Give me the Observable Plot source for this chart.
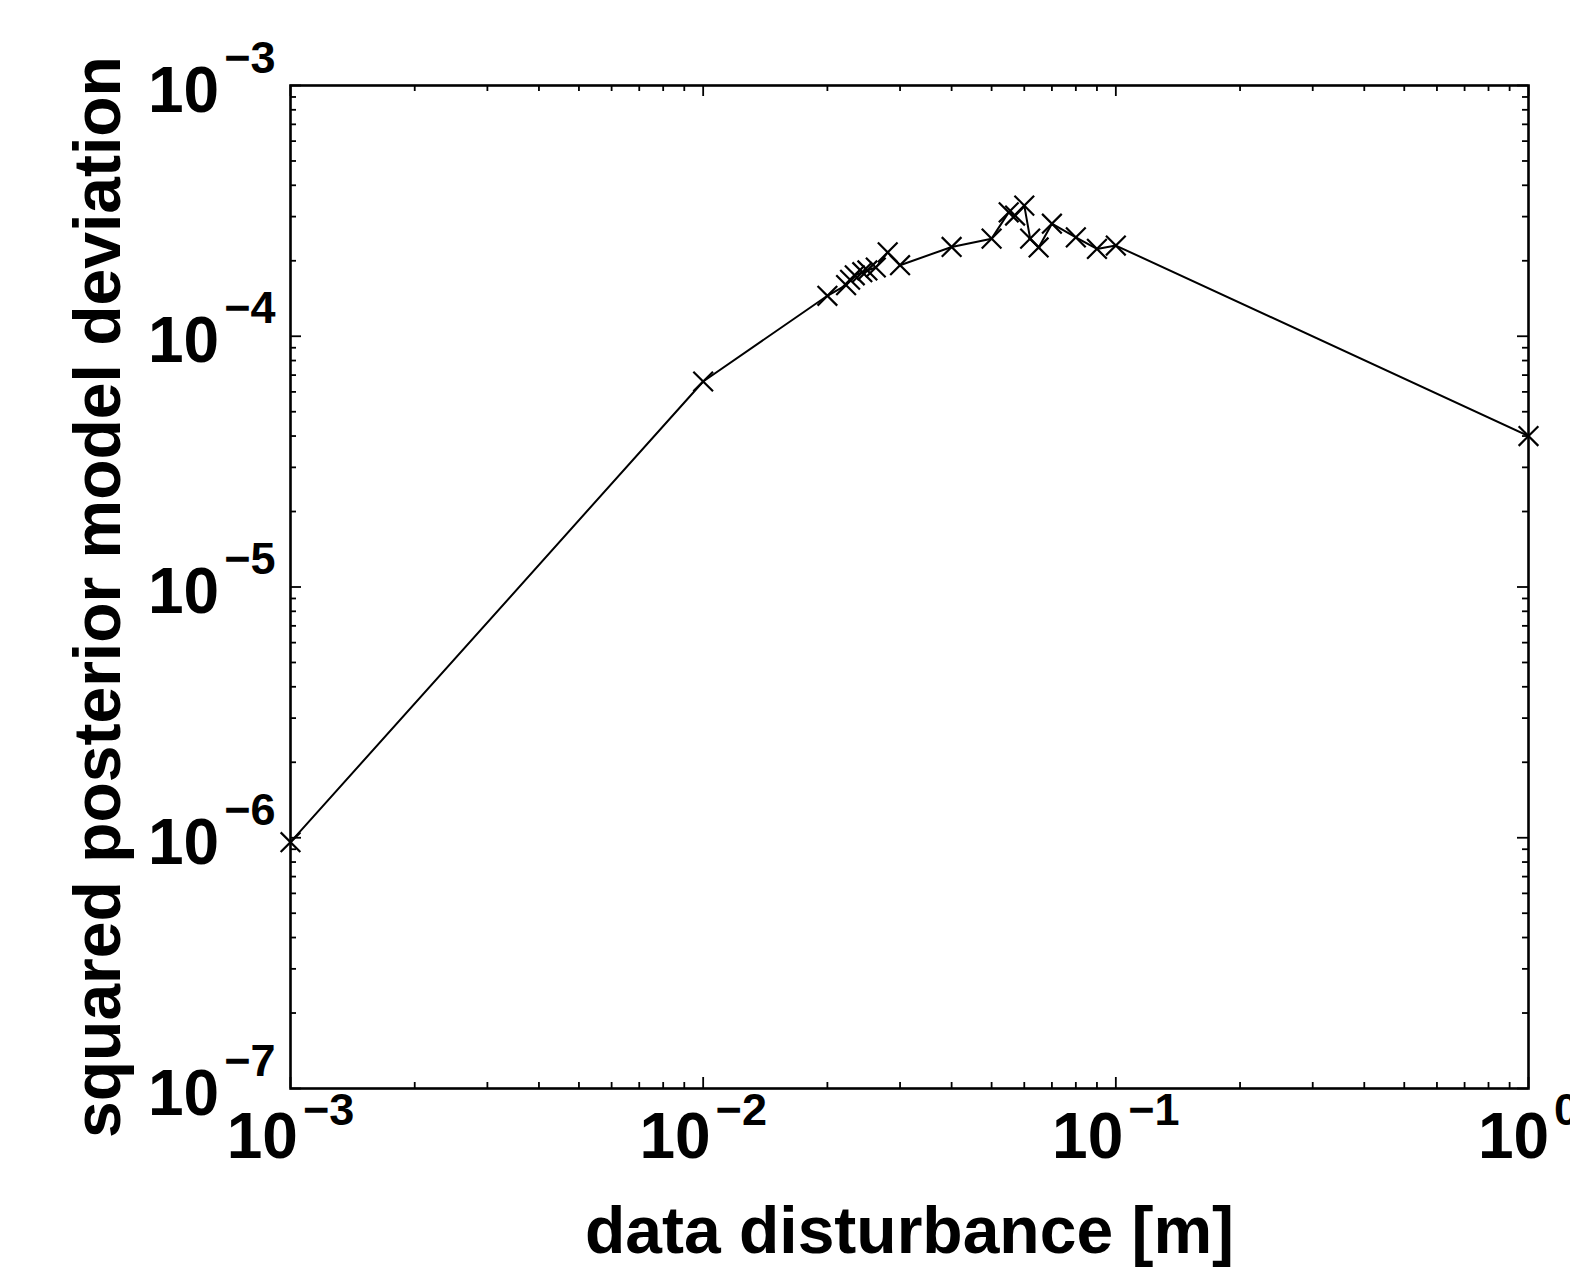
<!DOCTYPE html>
<html>
<head>
<meta charset="utf-8">
<script src="https://cdn.jsdelivr.net/npm/d3@7"></script>
<script src="https://cdn.jsdelivr.net/npm/@observablehq/plot@0.6"></script>
<style>
  html, body { margin: 0; padding: 0; background: #fff; }
  #chart svg { display: block; }
</style>
</head>
<body>
<div id="chart"></div>
<script>
// ---- data ----
const disturbance = [0.001, 0.01, 0.02, 0.0222, 0.0227, 0.0233, 0.0243, 0.025, 0.0262, 0.028, 0.03,
                     0.04, 0.05, 0.055, 0.057, 0.06, 0.062, 0.065, 0.07, 0.08, 0.09, 0.1, 1];
const deviation   = [9.6e-7, 6.6e-5, 1.45e-4, 1.60e-4, 1.68e-4, 1.75e-4, 1.80e-4, 1.83e-4, 1.88e-4, 2.16e-4, 1.92e-4,
                     2.27e-4, 2.45e-4, 3.12e-4, 3.03e-4, 3.32e-4, 2.45e-4, 2.26e-4, 2.81e-4, 2.48e-4, 2.23e-4, 2.30e-4, 4.0e-5];

const xMajorTicks = [1e-3, 1e-2, 1e-1, 1];
const xMajorLabels = ["10^−3", "10^−2", "10^−1", "10^0"];
const yMajorTicks = [1e-7, 1e-6, 1e-5, 1e-4, 1e-3];
const yMajorLabels = ["10~−7", "10~−6", "10~−5", "10~−4", "10~−3"];
const minorMultipliers = [2, 3, 4, 5, 6, 7, 8, 9];
const xMinorTicks = xMajorTicks.slice(0, -1).flatMap(d => minorMultipliers.map(m => m * d));
const yMinorTicks = yMajorTicks.slice(0, -1).flatMap(d => minorMultipliers.map(m => m * d));

const xTitle = "data disturbance [m]";
const yTitle = "squared posterior model deviation";

// ---- layout ----
const W = 1570, H = 1275;
const mL = 290, mR = 42, mT = 85, mB = 187;
const plotW = W - mL - mR, plotH = H - mT - mB;
const font = "'Liberation Sans', Arial, Helvetica, sans-serif";

const data = disturbance.map((x, i) => ({x, y: deviation[i]}));
const tk = {stroke: "black", strokeWidth: 1.8};

const svg = Plot.plot({
  width: W, height: H,
  marginLeft: mL, marginRight: mR, marginTop: mT, marginBottom: mB,
  style: {fontFamily: font, background: "#fff", overflow: "visible"},
  x: {type: "log", domain: [1e-3, 1], axis: null},
  y: {type: "log", domain: [1e-7, 1e-3], axis: null},
  marks: [
    // inward ticks, bottom & top
    Plot.tickX(xMinorTicks, {x: d => d, insetTop: plotH - 6, ...tk}),
    Plot.tickX(xMinorTicks, {x: d => d, insetBottom: plotH - 6, ...tk}),
    Plot.tickX(xMajorTicks, {x: d => d, insetTop: plotH - 11, ...tk}),
    Plot.tickX(xMajorTicks, {x: d => d, insetBottom: plotH - 11, ...tk}),
    // inward ticks, left & right
    Plot.tickY(yMinorTicks, {y: d => d, insetRight: plotW - 6, ...tk}),
    Plot.tickY(yMinorTicks, {y: d => d, insetLeft: plotW - 6, ...tk}),
    Plot.tickY(yMajorTicks, {y: d => d, insetRight: plotW - 11, ...tk}),
    Plot.tickY(yMajorTicks, {y: d => d, insetLeft: plotW - 11, ...tk}),
    Plot.frame({stroke: "black", strokeWidth: 2.6}),
    // data
    Plot.line(data, {x: "x", y: "y", stroke: "black", strokeWidth: 2}),
    Plot.dot(data, {x: "x", y: "y", symbol: "times", r: 9, stroke: "black", strokeWidth: 2.2}),
    // tick labels
    Plot.text(xMajorTicks, {x: d => d, frameAnchor: "bottom", lineAnchor: "bottom", text: (d, i) => xMajorLabels[i],
      textAnchor: "middle", dy: 69, fontSize: 64, fontWeight: "bold", fill: "black"}),
    Plot.text(yMajorTicks, {y: d => d, frameAnchor: "left", lineAnchor: "bottom", text: (d, i) => yMajorLabels[i],
      textAnchor: "end", dx: -15, dy: 26, fontSize: 64, fontWeight: "bold", fill: "black"}),
    // axis titles
    Plot.text([xTitle], {frameAnchor: "bottom", text: d => d, textAnchor: "middle", dy: 164, fontSize: 66,
      fontWeight: "bold", fill: "black"}),
    Plot.text([yTitle], {frameAnchor: "left", text: d => d, textAnchor: "middle", rotate: -90, dx: -192, dy: 10,
      fontSize: 66, fontWeight: "bold", fill: "black"})
  ]
});

const NS = "http://www.w3.org/2000/svg";
svg.querySelectorAll("text").forEach(t => {
  const s = t.textContent;
  const sep = s.includes("^") ? "^" : s.includes("~") ? "~" : null;
  if (!sep) return;
  const raise = sep === "^" ? 33 : 39;
  const [base, exp] = s.split(sep);
  t.textContent = "";
  const a = document.createElementNS(NS, "tspan");
  a.textContent = base;
  const b = document.createElementNS(NS, "tspan");
  b.setAttribute("dy", -raise);
  b.setAttribute("dx", 5);
  b.setAttribute("font-size", 45);
  b.textContent = exp;
  t.appendChild(a);
  t.appendChild(b);
});

document.getElementById("chart").appendChild(svg);
</script>
</body>
</html>
